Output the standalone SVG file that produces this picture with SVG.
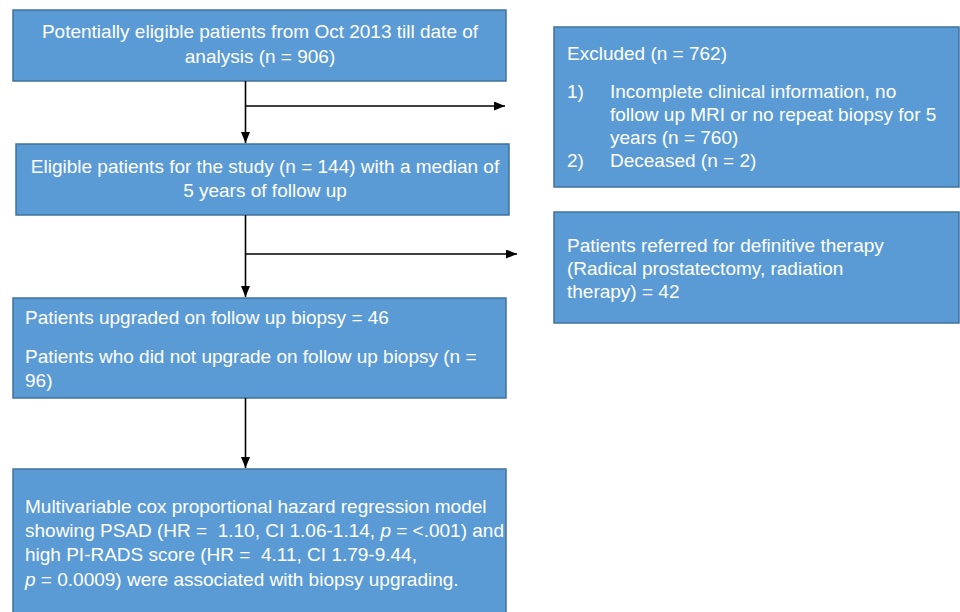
<svg xmlns="http://www.w3.org/2000/svg" width="960" height="612" viewBox="0 0 960 612">
<style>
.box{fill:#5B9BD5;stroke:#41719C;stroke-width:1.5}
.t{font-family:"Liberation Sans",Arial,sans-serif;font-size:19px;fill:#ffffff;white-space:pre}
.c{text-anchor:middle}
.ln{stroke:#000;stroke-width:1.6;fill:none}
</style>
<defs>
<marker id="ah" markerWidth="11" markerHeight="9" refX="11" refY="4.5" orient="auto" markerUnits="userSpaceOnUse">
<path d="M0,0 L11,4.5 L0,9 Z" fill="#000"/>
</marker>
</defs>
<rect width="960" height="612" fill="#fff"/>
<g id="n1">
<rect class="box" x="13" y="10" width="493" height="71"/>
<text class="t c" x="260" y="38">Potentially eligible patients from Oct 2013 till date of</text>
<text class="t c" x="260" y="63">analysis (n = 906)</text>
</g>
<g id="n2">
<rect class="box" x="16" y="144" width="493" height="71"/>
<text class="t c" x="265" y="173">Eligible patients for the study (n = 144) with a median of</text>
<text class="t c" x="265" y="197">5 years of follow up</text>
</g>
<g id="n3">
<rect class="box" x="13" y="298" width="493" height="100"/>
<text class="t" x="25" y="324">Patients upgraded on follow up biopsy = 46</text>
<text class="t" x="25" y="363">Patients who did not upgrade on follow up biopsy (n =</text>
<text class="t" x="25" y="387">96)</text>
</g>
<g id="n4">
<rect class="box" x="13" y="469" width="493" height="150"/>
<text class="t" x="25" y="513">Multivariable cox proportional hazard regression model</text>
<text class="t" x="25" y="537" xml:space="preserve">showing PSAD (HR =  1.10, CI 1.06-1.14, <tspan font-style="italic">p</tspan> = &lt;.001) and</text>
<text class="t" x="25" y="561" xml:space="preserve">high PI-RADS score (HR =  4.11, CI 1.79-9.44,</text>
<text class="t" x="25" y="586"><tspan font-style="italic">p</tspan> = 0.0009) were associated with biopsy upgrading.</text>
</g>
<g id="n5">
<rect class="box" x="554" y="27" width="405" height="160"/>
<text class="t" x="567" y="60">Excluded (n = 762)</text>
<text class="t" x="567" y="98">1)</text>
<text class="t" x="610" y="98">Incomplete clinical information, no</text>
<text class="t" x="610" y="121">follow up MRI or no repeat biopsy for 5</text>
<text class="t" x="610" y="144">years (n = 760)</text>
<text class="t" x="567" y="167">2)</text>
<text class="t" x="610" y="167">Deceased (n = 2)</text>
</g>
<g id="n6">
<rect class="box" x="554" y="212" width="405" height="111"/>
<text class="t" x="567" y="252">Patients referred for definitive therapy</text>
<text class="t" x="567" y="275">(Radical prostatectomy, radiation</text>
<text class="t" x="567" y="298">therapy) = 42</text>
</g>
<g id="connectors">
<line class="ln" x1="245.5" y1="81" x2="245.5" y2="143" marker-end="url(#ah)"/>
<line class="ln" x1="245.5" y1="106" x2="505" y2="106" marker-end="url(#ah)"/>
<line class="ln" x1="245.5" y1="215" x2="245.5" y2="297" marker-end="url(#ah)"/>
<line class="ln" x1="245.5" y1="254" x2="517" y2="254" marker-end="url(#ah)"/>
<line class="ln" x1="245.5" y1="398" x2="245.5" y2="468" marker-end="url(#ah)"/>
</g>
</svg>
